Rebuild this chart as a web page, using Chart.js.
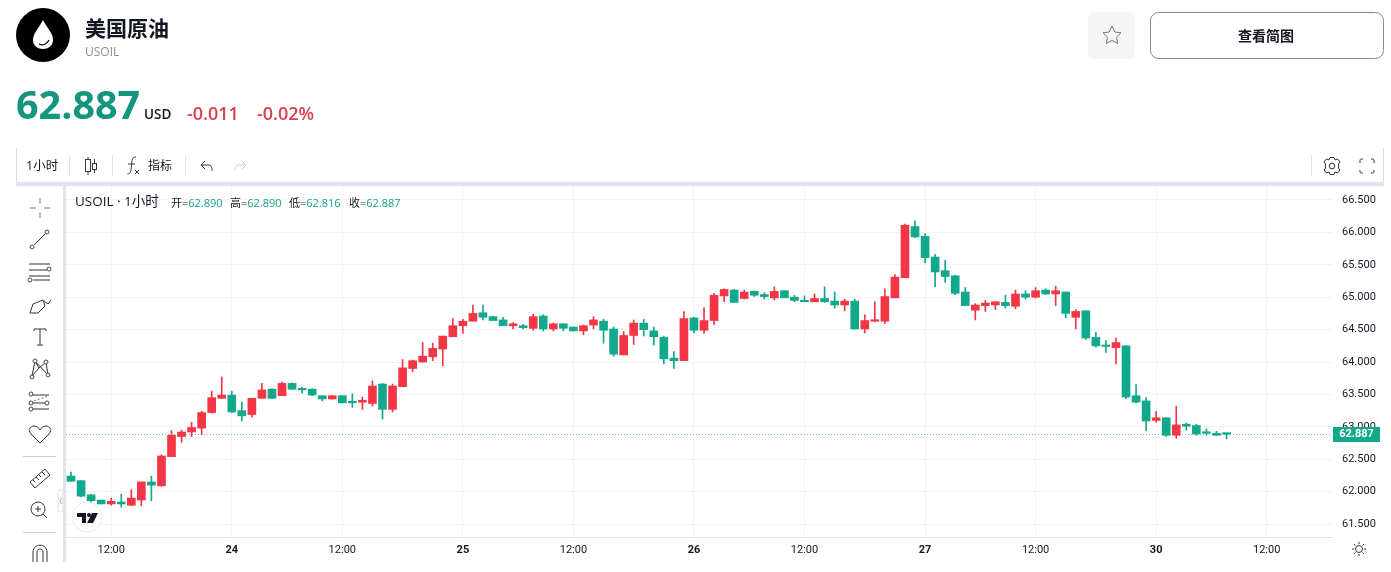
<!DOCTYPE html>
<html>
<head>
<meta charset="UTF-8">
<title>USOIL</title>
<script src="https://cdn.jsdelivr.net/npm/chart.js"></script>
<style>
html, body { margin: 0; padding: 0; background: #fff; width: 1391px; height: 572px; overflow: hidden; }
body { position: relative; font-family: "Open Sans", "Noto Sans CJK SC", sans-serif; color: #131722; }
.abs { position: absolute; white-space: nowrap; line-height: 1; }
#myChart { position: absolute; left: 66px; top: 186px; }
#icons { position: absolute; left: 0; top: 0; }
.num { color: #18a08a; }
</style>
</head>
<body>
<canvas id="myChart" width="1317" height="376"></canvas>

<svg id="icons" width="1391" height="572" fill="none" stroke="#444" stroke-width="1">
    <!-- header -->
    <circle cx="43" cy="35" r="27" fill="#000" stroke="none"/>
    <path d="M43 20 C39 28 33 33 33 40 C33 46 38 49 43 49 C48 49 53 46 53 40 C53 33 47 28 43 20Z" fill="#fff" stroke="none"/>
    <path d="M39 44 C43 46 47 44 49 40" stroke="#000" stroke-width="1.2"/>
    <rect x="1088" y="12" width="47" height="47" rx="6" fill="#f5f5f5" stroke="none"/>
    <path d="M1112 26 L1114.8 32 L1121 32.8 L1116.5 37.2 L1117.7 43.5 L1112 40.4 L1106.3 43.5 L1107.5 37.2 L1103 32.8 L1109.2 32Z" stroke="#777"/>
    <rect x="1150.5" y="12.5" width="233" height="46" rx="8" fill="#fff" stroke="#888"/>

    <!-- toolbar frame -->
    <path d="M16.5 148 V182 M1383.5 148 V182" stroke="#d8dbe3"/>
    <path d="M69.5 155 V176 M112.5 155 V176 M185.5 155 V176 M1311.5 155 V176" stroke="#e0e3eb"/>
    <rect x="16" y="182" width="1368" height="4" fill="#e0e3eb" stroke="none"/>
    <rect x="63" y="186" width="3" height="376" fill="#e0e3eb" stroke="none"/>
    <path d="M88 157 V175 M94.5 159 V173" stroke="#333"/>
    <rect x="85.5" y="159.5" width="5" height="12" fill="#fff" stroke="#333"/>
    <rect x="92.5" y="163.5" width="4" height="6" fill="#fff" stroke="#333"/>
    <path d="M136 157 C132 157 132 160 131.5 165 C131 171 131 174 127.5 174 M128 164 H135 M135 170 L139 174 M139 170 L135 174" stroke="#333"/>
    <path d="M201 165 L205 161 M201 165 L205 169 M201 165 H209 C212 165 212 170 212 171" stroke="#333"/>
    <path d="M246 165 L242 161 M246 165 L242 169 M246 165 H238 C235 165 235 170 235 171" stroke="#ccc"/>
    <circle cx="1332" cy="166" r="2.8" stroke="#333"/>
    <path d="M1330 157.5 H1334 L1335 160 L1337.5 159 L1340 162 L1338.5 164 L1338.5 168 L1340 170 L1337.5 173 L1335 172 L1334 174.5 H1330 L1329 172 L1326.5 173 L1324 170 L1325.5 168 L1325.5 164 L1324 162 L1326.5 159 L1329 160Z" stroke="#333"/>
    <path d="M1360 163 V160 C1360 159 1361 159 1363 159 M1371 159 C1373 159 1374 159 1374 160 V163 M1374 170 V172 C1374 173 1373 173 1371 173 M1363 173 C1361 173 1360 173 1360 172 V170" stroke="#333"/>

    <!-- drawing tools -->
    <path d="M40 198 V204 M40 212 V218 M30 208 H36 M44 208 H50" stroke="#8fa9c4" stroke-width="1.4"/>
    <path d="M34 245 L45 234" stroke="#333"/><circle cx="32" cy="247" r="2" fill="#fff"/><circle cx="47" cy="232" r="2" fill="#fff"/>
    <path d="M29 264 H50 M29 270 H47 M29 276 H50 M33 280 H50" stroke="#333"/><circle cx="49" cy="269" r="2" fill="#fff"/><circle cx="30" cy="280" r="2" fill="#fff"/>
    <path d="M30 313 L33 304 L43 300 L45 306 L38 313Z M44 301 L48 304 L51 300" stroke="#333"/>
    <path d="M34 329 V331 M34 329 H46 V331 M40 329 V345 M37 345 H43" stroke="#333"/>
    <path d="M32 376 L35 361 L48 375 M35 361 L39 368 L46 362 L48 375 M32 376 L39 368" stroke="#333"/>
    <circle cx="32" cy="377" r="2" fill="#fff"/><circle cx="35" cy="361" r="2" fill="#fff"/><circle cx="46" cy="362" r="2" fill="#fff"/><circle cx="48" cy="375" r="2" fill="#fff"/>
    <path d="M32 395 H49 M32 403 H45 M32 409 H49" stroke="#333"/><path d="M34 401 L48 396" stroke="#777" stroke-dasharray="2 2"/>
    <circle cx="31" cy="394" r="2" fill="#fff"/><circle cx="31" cy="403" r="2" fill="#fff"/><circle cx="47" cy="403" r="2" fill="#fff"/><circle cx="31" cy="409" r="2" fill="#fff"/>
    <path d="M40 443 L31 434 C27 429 31 426 34 426 C37 426 39 428 40 430 C41 428 43 426 46 426 C49 426 53 429 49 434Z" stroke="#333"/>
    <path d="M23 456.5 H56 M23 532.5 H56" stroke="#cfd2d9"/>
    <path d="M30 482 L45 469 L50 475 L35 488Z M33 480 L35 482 M36 477 L39 480 M39 475 L41 477 M42 472 L45 475" stroke="#333"/>
    <circle cx="38" cy="509" r="7" stroke="#333"/><path d="M43 514 L47 518 M35 509 H41 M38 506 V512" stroke="#333"/>
    <path d="M33 562 V552 C33 543 47 543 47 552 V562 M37 562 V552 C37 548 43 548 43 552 V562" stroke="#333"/>
    <rect x="58" y="490" width="5" height="22" rx="2" fill="#fff" stroke="#e0e3eb"/>
    <path d="M61.5 498 L60 501 L61.5 504" stroke="#aaa"/>

    <!-- tv badge -->
    <circle cx="87" cy="517" r="15" fill="#fff" stroke="#e8e9ee"/>
    <path d="M77 513 H86 V523 H82 V517 H77Z M92 513 H98 L93 523 H87Z" fill="#131722" stroke="none"/>
    <circle cx="89" cy="515" r="2" fill="#131722" stroke="none"/>

    <!-- time axis gear -->
    <circle cx="1359" cy="549" r="3.5" stroke="#333"/>
    <path d="M1359 542 V544 M1359 554 V556 M1352 549 H1354 M1364 549 H1366 M1354 544 L1355.5 545.5 M1362.5 552.5 L1364 554 M1354 554 L1355.5 552.5 M1362.5 545.5 L1364 544" stroke="#333"/>
</svg>

<div class="abs" style="left:85px;top:17px;font-size:21px;font-weight:700;font-family:'Noto Sans CJK SC';">美国原油</div>
<div class="abs" style="left:85px;top:46px;font-size:12px;color:#8a8e96;">USOIL</div>
<div class="abs" style="left:16px;top:85px;font-size:39.5px;font-weight:700;color:#14957f;">62.887</div>
<div class="abs" style="left:144px;top:108px;font-size:13.5px;font-weight:600;">USD</div>
<div class="abs" style="left:187px;top:104px;font-size:18px;font-weight:600;color:#d8404f;">-0.011</div>
<div class="abs" style="left:257px;top:104px;font-size:18px;font-weight:600;color:#d8404f;">-0.02%</div>
<div class="abs" style="left:1149px;top:28px;width:234px;text-align:center;font-size:14px;font-weight:700;font-family:'Noto Sans CJK SC';">查看简图</div>
<div class="abs" style="left:26px;top:160px;font-size:12.5px;">1小时</div>
<div class="abs" style="left:148px;top:160px;font-size:12px;">指标</div>
<div class="abs" style="left:75px;top:195px;font-size:13.5px;">USOIL · 1小时</div>
<div class="abs" style="left:171px;top:197px;font-size:11px;">开=<span class="num">62.890</span></div>
<div class="abs" style="left:230px;top:197px;font-size:11px;">高=<span class="num">62.890</span></div>
<div class="abs" style="left:289px;top:197px;font-size:11px;">低=<span class="num">62.816</span></div>
<div class="abs" style="left:349px;top:197px;font-size:11px;">收=<span class="num">62.887</span></div>

<script>
// hourly candles, oldest first
var opens = [62.24, 62.17, 61.95, 61.87, 61.81, 61.84, 61.79, 61.87, 62.15, 62.09,
    62.54, 62.85, 62.92, 62.98, 63.22, 63.44, 63.49, 63.25, 63.19, 63.44,
    63.58, 63.48, 63.67, 63.59, 63.58, 63.48, 63.43, 63.48, 63.38, 63.38,
    63.36, 63.66, 63.27, 63.62, 63.90, 64.00, 64.08, 64.20, 64.39, 64.56,
    64.63, 64.76, 64.70, 64.65, 64.56, 64.56, 64.52, 64.71, 64.51, 64.59,
    64.54, 64.48, 64.57, 64.63, 64.51, 64.11, 64.41, 64.60, 64.48, 64.38,
    64.06, 64.02, 64.68, 64.49, 64.64, 65.02, 65.11, 64.98, 65.09, 65.04,
    64.99, 65.10, 65.00, 64.95, 64.93, 64.98, 64.94, 64.88, 64.94, 64.51,
    64.63, 64.63, 64.99, 65.30, 66.09, 65.94, 65.62, 65.41, 65.33, 65.08,
    64.80, 64.87, 64.88, 64.92, 64.86, 65.05, 65.00, 65.11, 65.05, 65.08,
    64.69, 64.79, 64.38, 64.26, 64.22, 64.25, 63.48, 63.40, 63.10, 63.14,
    62.87, 63.04, 63.02, 62.92, 62.90, 62.890];
var highs = [62.30, 62.17, 61.96, 61.87, 61.90, 61.96, 62.03, 62.15, 62.24, 62.57,
    62.94, 62.95, 63.07, 63.24, 63.55, 63.77, 63.55, 63.38, 63.44, 63.67,
    63.59, 63.69, 63.68, 63.61, 63.59, 63.48, 63.48, 63.48, 63.51, 63.46,
    63.71, 63.67, 63.66, 64.04, 64.03, 64.30, 64.29, 64.40, 64.67, 64.66,
    64.88, 64.88, 64.71, 64.69, 64.61, 64.58, 64.74, 64.73, 64.60, 64.59,
    64.54, 64.57, 64.70, 64.66, 64.54, 64.47, 64.65, 64.66, 64.54, 64.40,
    64.16, 64.78, 64.69, 64.84, 65.06, 65.13, 65.12, 65.11, 65.10, 65.07,
    65.16, 65.10, 65.03, 65.02, 65.05, 65.16, 65.08, 64.97, 64.97, 64.73,
    64.93, 65.13, 65.35, 66.13, 66.18, 65.98, 65.66, 65.57, 65.34, 65.15,
    64.90, 64.95, 64.93, 65.03, 65.11, 65.10, 65.15, 65.13, 65.17, 65.08,
    64.81, 64.79, 64.46, 64.33, 64.37, 64.25, 63.65, 63.45, 63.24, 63.14,
    63.32, 63.06, 63.04, 62.97, 62.93, 62.890];
var lows = [62.16, 61.92, 61.83, 61.81, 61.79, 61.76, 61.78, 61.78, 61.86, 62.08,
    62.54, 62.76, 62.85, 62.88, 63.21, 63.44, 63.22, 63.09, 63.15, 63.44,
    63.44, 63.48, 63.58, 63.52, 63.48, 63.40, 63.43, 63.37, 63.30, 63.27,
    63.32, 63.12, 63.23, 63.62, 63.85, 64.00, 64.02, 63.94, 64.39, 64.44,
    64.63, 64.65, 64.64, 64.56, 64.51, 64.51, 64.49, 64.48, 64.48, 64.48,
    64.48, 64.42, 64.51, 64.29, 64.09, 64.11, 64.27, 64.40, 64.26, 63.97,
    63.90, 64.02, 64.45, 64.44, 64.58, 64.93, 64.92, 64.97, 65.01, 64.97,
    64.96, 64.99, 64.93, 64.93, 64.93, 64.92, 64.83, 64.79, 64.51, 64.45,
    64.62, 64.59, 64.99, 65.30, 65.92, 65.53, 65.16, 65.23, 65.04, 64.87,
    64.65, 64.78, 64.81, 64.83, 64.82, 64.97, 64.99, 65.04, 64.87, 64.68,
    64.51, 64.35, 64.23, 64.15, 63.97, 63.43, 63.37, 62.94, 63.07, 62.85,
    62.82, 62.95, 62.87, 62.87, 62.87, 62.816];
var closes = [62.16, 61.93, 61.86, 61.81, 61.85, 61.81, 61.90, 62.15, 62.10, 62.55,
    62.87, 62.92, 62.99, 63.22, 63.45, 63.49, 63.23, 63.17, 63.44, 63.57,
    63.44, 63.67, 63.58, 63.57, 63.49, 63.43, 63.48, 63.37, 63.37, 63.41,
    63.63, 63.27, 63.63, 63.91, 64.02, 64.09, 64.21, 64.40, 64.56, 64.63,
    64.75, 64.69, 64.64, 64.56, 64.59, 64.53, 64.70, 64.51, 64.59, 64.52,
    64.48, 64.56, 64.65, 64.49, 64.12, 64.41, 64.60, 64.50, 64.39, 64.05,
    64.02, 64.67, 64.49, 64.64, 65.03, 65.12, 64.92, 65.08, 65.03, 65.01,
    65.09, 64.99, 64.95, 64.93, 64.98, 64.93, 64.88, 64.94, 64.51, 64.64,
    64.65, 65.01, 65.31, 66.11, 65.93, 65.61, 65.39, 65.32, 65.06, 64.87,
    64.88, 64.91, 64.93, 64.87, 65.05, 65.00, 65.10, 65.05, 65.10, 64.75,
    64.78, 64.37, 64.25, 64.24, 64.30, 63.46, 63.38, 63.09, 63.14, 62.87,
    63.03, 63.01, 62.89, 62.90, 62.87, 62.887];

// time axis: slot number of each labelled hour, the axis runs on past the last candle
var slotCount = 126;
var timeSlots = [4, 16, 27, 39, 50, 62, 73, 85, 96, 108, 119];
var timeLabels = ['12:00', '24', '12:00', '25', '12:00', '26', '12:00', '27', '12:00', '30', '12:00'];
var priceTicks = [61.5, 62, 62.5, 63, 63.5, 64, 64.5, 65, 65.5, 66, 66.5];
var lastPrice = 62.887;

var upColor = '#f23645';
var downColor = '#12a88c';
var gridColor = '#f3f4f8';

var slots = [];
for (var s = 0; s < slotCount; s++) slots.push(s);

var bodies = opens.map(function (o, i) { return [o, closes[i]]; });
var wicks = lows.map(function (l, i) { return [l, highs[i]]; });
var candleColors = opens.map(function (o, i) { return closes[i] >= o ? upColor : downColor; });

// dotted last price line and the price flag on the axis
var lastPricePlugin = {
    id: 'lastPrice',
    beforeDatasetsDraw: function (chart) {
        var y = Math.round(chart.scales.y.getPixelForValue(lastPrice)) + 0.5;
        var c = chart.ctx;
        c.save();
        c.strokeStyle = '#5cc4b2';
        c.lineWidth = 1;
        c.setLineDash([1, 2]);
        c.beginPath();
        c.moveTo(chart.chartArea.left, y);
        c.lineTo(chart.chartArea.right, y);
        c.stroke();
        c.restore();
    },
    afterDraw: function (chart) {
        var y = Math.round(chart.scales.y.getPixelForValue(lastPrice));
        var x = chart.chartArea.right + 1;
        var c = chart.ctx;
        c.save();
        c.fillStyle = downColor;
        c.fillRect(x, y - 7, 47, 15);
        c.fillStyle = '#fff';
        c.font = 'bold 11px Roboto';
        c.textAlign = 'center';
        c.textBaseline = 'middle';
        c.fillText(lastPrice.toFixed(3), x + 23.5, y + 0.5);
        c.restore();
    }
};

var ctx = document.getElementById('myChart').getContext('2d');
var chart = new Chart(ctx, {
    type: 'bar',
    data: {
        labels: slots,
        datasets: [{
            label: 'wick',
            data: wicks,
            backgroundColor: candleColors,
            barThickness: 1,
            grouped: false,
            order: 2
        }, {
            label: 'body',
            data: bodies,
            backgroundColor: candleColors,
            barThickness: 8,
            minBarLength: 1.5,
            borderSkipped: false,
            grouped: false,
            order: 1
        }]
    },
    options: {
        responsive: false,
        animation: false,
        devicePixelRatio: 1,
        plugins: { legend: { display: false }, tooltip: { enabled: false } },
        layout: { padding: 0 },
        scales: {
            x: {
                type: 'category',
                grid: { color: gridColor, drawTicks: false, offset: false },
                border: { color: '#e0e3eb' },
                afterFit: function (scale) { scale.height = 25; },
                ticks: {
                    autoSkip: false,
                    maxRotation: 0,
                    padding: 7,
                    color: '#131722',
                    font: function (c) {
                        var label = c.tick && c.tick.label;
                        return { family: 'Roboto', size: 11, weight: label && label !== '12:00' ? 'bold' : 'normal' };
                    },
                    callback: function (value) {
                        var k = timeSlots.indexOf(value);
                        return k < 0 ? null : timeLabels[k];
                    }
                }
            },
            y: {
                position: 'right',
                min: 61.3,
                max: 66.716,
                grid: { color: gridColor, drawTicks: false },
                border: { display: false },
                // the tick padding would otherwise be added above the plot area
                afterFit: function (scale) { scale.width = 51; scale.paddingTop = 0; scale.paddingBottom = 0; },
                afterBuildTicks: function (scale) {
                    scale.ticks = priceTicks.map(function (v) { return { value: v }; });
                },
                ticks: {
                    padding: 10,
                    color: '#131722',
                    font: { family: 'Roboto', size: 11 },
                    callback: function (value) { return Number(value).toFixed(3); }
                }
            }
        }
    },
    plugins: [lastPricePlugin]
});
</script>
</body>
</html>
